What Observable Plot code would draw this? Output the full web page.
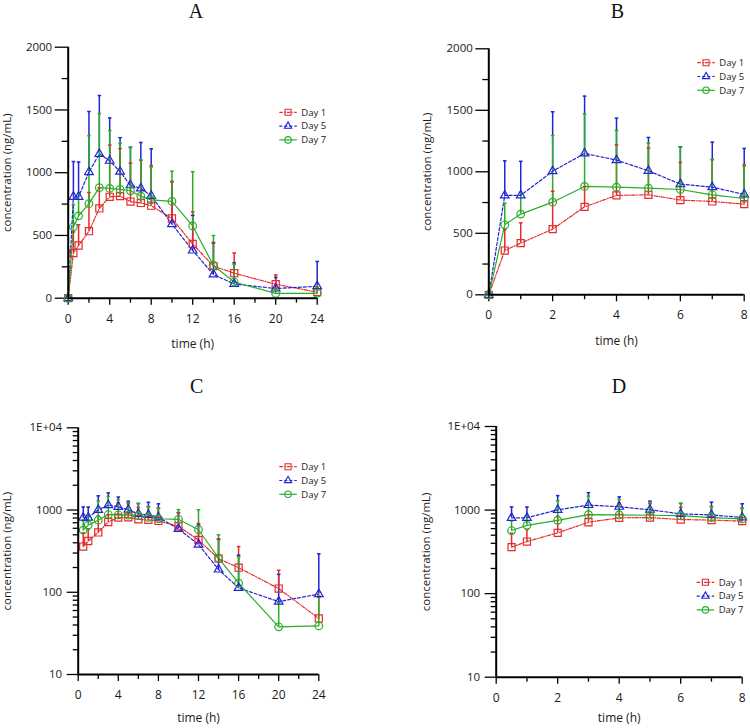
<!DOCTYPE html>
<html><head><meta charset="utf-8">
<script src="https://cdn.jsdelivr.net/npm/d3@7"></script>
<script src="https://cdn.jsdelivr.net/npm/@observablehq/plot@0.6"></script>
<style>
body{margin:0;background:#fff;}
#wrap{position:relative;width:750px;height:728px;overflow:hidden;background:#fff;}
.panel{position:absolute;width:375px;height:364px;}
#overlay{position:absolute;left:0;top:0;pointer-events:none;}
</style></head><body><div id="wrap"></div>
<script>
// ---- data ----
const times = [0, 0.5, 1, 2, 3, 4, 5, 6, 7, 8, 10, 12, 14, 16, 20, 24];
const day1Mean  = [0, 360, 420, 534, 715, 808, 813, 770, 759, 737, 635, 432, 256, 199, 111, 48];
const day5Mean  = [0, 808, 808, 1005, 1149, 1095, 1008, 900, 875, 816, 590, 380, 189, 113, 77, 95];
const day7Mean  = [0, 569, 656, 753, 881, 875, 867, 856, 813, 783, 771, 576, 261, 129, 38, 39];
const day1Upper = [0, 528, 585, 842, 880, 1220, 1192, 1076, 1098, 1057, 928, 688, 445, 360, 185, 87];
const day5Upper = [0, 1089, 1085, 1488, 1615, 1436, 1279, 1203, 1241, 1190, 930, 660, 440, 282, 165, 293];
const day7Upper = [0, 745, 834, 1295, 1470, 1336, 1233, 1200, 1103, 1046, 1012, 1008, 499, 270, 75, 90];
const seriesNames = ["Day 1", "Day 5", "Day 7"];
const linearTicks = [0, 500, 1000, 1500, 2000];
const linearMinor = [250, 750, 1250, 1750];
const logTicks = [10, 100, 1000, 10000];
const logTickLabels = ["10", "100", "1000", "1E+04"];
const fullTimeTicks = [0, 4, 8, 12, 16, 20, 24];
const fullTimeMinor = [2, 6, 10, 14, 18, 22];
const earlyTimeTicks = [0, 2, 4, 6, 8];
const earlyTimeMinor = [1, 3, 5, 7];
const panelTitles = ["A", "B", "C", "D"];
const yLabel = "concentration (ng/mL)";
const xLabel = "time (h)";

// ---- styles ----
const colors = ["#e52b2b", "#2323d6", "#27ae27"];
const dashes = ["3.5,1.5,1,1.5", "3,2", null];
const symbols = ["square", "triangle", "circle"];
const radii = [4.0, 3.2, 3.8];
const means = [day1Mean, day5Mean, day7Mean];
const uppers = [day1Upper, day5Upper, day7Upper];

const rows = [];
seriesNames.forEach((name, s) => times.forEach((t, i) =>
  rows.push({series: name, s, t, mean: means[s][i], upper: uppers[s][i]})));

const logMinor = [];
[10, 100, 1000].forEach(d => { for (let k = 2; k <= 9; k++) logMinor.push(k * d); });

const capSymbol = {draw(ctx, size) { const r = Math.sqrt(size / Math.PI); ctx.moveTo(-r, 0); ctx.lineTo(r, 0); }};

const panels = [
  {left: 0,   top: 0,   log: false, xMax: 24, m: [46.7, 58.3, 66.3, 67.7], yOff: 65, xOff: 50, titleX: 196, titleY: 17.5,  legX: 279.3, legY: 112.3},
  {left: 375, top: 0,   log: false, xMax: 8,  m: [48.3, 6.3, 69.7, 113.3], yOff: 66, xOff: 50, titleX: 617.3, titleY: 17.5, legX: 697.3, legY: 62.7},
  {left: 0,   top: 364, log: true,  xMax: 24, m: [63.3, 56.7, 54, 77.7], yOff: 75, xOff: 47, titleX: 196.7, titleY: 393, legX: 279.3, legY: 466.7},
  {left: 375, top: 364, log: true,  xMax: 8,  m: [62, 8.3, 51.3, 120.7], yOff: 74.5, xOff: 45, titleX: 619, titleY: 393, legX: 696.7, legY: 582.3}
];

const wrap = document.getElementById("wrap");

panels.forEach((p, k) => {
  const data = rows.filter(d => d.t <= p.xMax && (!p.log || d.t > 0));
  const xt = p.xMax === 24 ? fullTimeTicks : earlyTimeTicks;
  const xm = p.xMax === 24 ? fullTimeMinor : earlyTimeMinor;
  const marks = [];
  // axes
  marks.push(Plot.axisX({ticks: xm, tickSize: 5, tickFormat: () => "", label: null, stroke: "#000", strokeWidth: 1.3}));
  marks.push(Plot.axisX({ticks: xt, tickSize: 7, tickPadding: 9, tickFormat: d => String(d), label: xLabel, labelAnchor: "center", labelOffset: p.xOff, labelArrow: "none", fontSize: 12, stroke: "#000", strokeWidth: 1.3, fill: "#1a1a1a"}));
  if (p.log) {
    marks.push(Plot.axisY({ticks: logMinor, tickSize: 5, tickFormat: () => "", label: null, stroke: "#000", strokeWidth: 1.3}));
    marks.push(Plot.axisY({ticks: logTicks, tickSize: 11, tickPadding: 5, tickFormat: d => logTickLabels[logTicks.indexOf(d)], label: yLabel, labelAnchor: "center", labelOffset: p.yOff, labelArrow: "none", fontSize: 11.5, stroke: "#000", strokeWidth: 1.3, fill: "#1a1a1a"}));
  } else {
    marks.push(Plot.axisY({ticks: linearMinor, tickSize: 6, tickFormat: () => "", label: null, stroke: "#000", strokeWidth: 1.3}));
    marks.push(Plot.axisY({ticks: linearTicks, tickSize: 13, tickPadding: 3, tickFormat: d => String(d), label: yLabel, labelAnchor: "center", labelOffset: p.yOff, labelArrow: "none", fontSize: 11.5, stroke: "#000", strokeWidth: 1.3, fill: "#1a1a1a"}));
  }
  // error bars
  [1, 0, 2].forEach(s => {
    const sd = data.filter(d => d.s === s && d.upper > d.mean);
    marks.push(Plot.ruleX(sd, {x: "t", y1: "mean", y2: "upper", stroke: colors[s], strokeWidth: 1.5}));
  });
  // lines
  [0, 1, 2].forEach(s => {
    const sd = data.filter(d => d.s === s);
    marks.push(Plot.line(sd, {x: "t", y: "mean", stroke: colors[s], strokeWidth: 1.2, strokeDasharray: dashes[s]}));
  });
  // caps
  [1, 0, 2].forEach(s => {
    const sd = data.filter(d => d.s === s && d.upper > d.mean);
    marks.push(Plot.dot(sd, {x: "t", y: "upper", symbol: capSymbol, r: 1.8, stroke: colors[s], strokeWidth: 1.5}));
  });
  // markers
  [0, 1, 2].forEach(s => {
    const sd = data.filter(d => d.s === s);
    marks.push(Plot.dot(sd, {x: "t", y: "mean", symbol: symbols[s], r: radii[s], stroke: colors[s], fill: "none", strokeWidth: 1.2}));
  });
  // axis lines
  marks.push(Plot.ruleX([0], {stroke: "#000", strokeWidth: 2}));
  marks.push(Plot.ruleY([p.log ? 10 : 0], {stroke: "#000", strokeWidth: 2}));

  const chart = Plot.plot({
    width: 375, height: 364,
    marginTop: p.m[0], marginRight: p.m[1], marginBottom: p.m[2], marginLeft: p.m[3],
    x: {domain: [0, p.xMax]},
    y: p.log ? {type: "log", domain: [10, 10000]} : {domain: [0, 2000]},
    style: {fontFamily: "'Open Sans', sans-serif", fontSize: "11.5px", background: "white", color: "#1a1a1a", overflow: "visible"},
    marks
  });
  const div = document.createElement("div");
  div.className = "panel";
  div.style.left = p.left + "px";
  div.style.top = p.top + "px";
  div.appendChild(chart);
  wrap.appendChild(div);
});

// overlay: titles & legends
const svg = d3.select(wrap).append("svg").attr("id", "overlay").attr("width", 750).attr("height", 728);
panels.forEach((p, k) => {
  svg.append("text").attr("x", p.titleX).attr("y", p.titleY).attr("text-anchor", "middle")
    .attr("font-family", "'Liberation Serif', 'Times New Roman', serif").attr("font-size", 20).attr("fill", "#111")
    .text(panelTitles[k]);
  seriesNames.forEach((name, s) => {
    const y = p.legY + s * 13.8;
    const g = svg.append("g");
    g.append("line").attr("x1", p.legX).attr("x2", p.legX + 17.5).attr("y1", y).attr("y2", y)
      .attr("stroke", colors[s]).attr("stroke-width", 1.2).attr("stroke-dasharray", dashes[s]);
    g.append("path").attr("transform", `translate(${p.legX + 8.75},${y})`)
      .attr("d", d3.symbol(s === 0 ? d3.symbolSquare : s === 1 ? d3.symbolTriangle : d3.symbolCircle, Math.PI * Math.pow(radii[s] * 0.85, 2))())
      .attr("fill", "none").attr("stroke", colors[s]).attr("stroke-width", 1.1);
    g.append("text").attr("x", p.legX + 22).attr("y", y).attr("dy", "0.35em")
      .attr("font-family", "'Open Sans', sans-serif").attr("font-size", 9.5).attr("fill", "#222").text(name);
  });
});
</script></body></html>
